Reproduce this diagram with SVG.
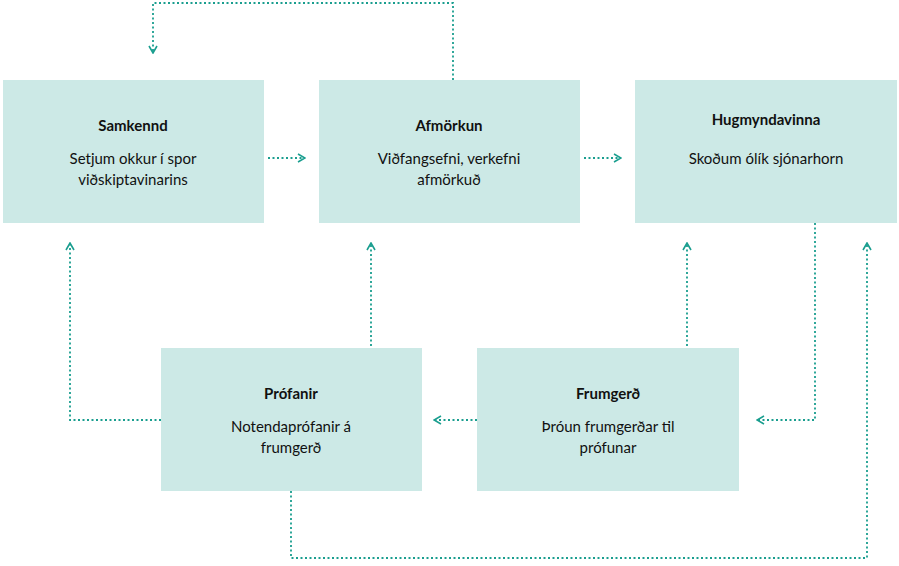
<svg xmlns="http://www.w3.org/2000/svg" width="899" height="566" viewBox="0 0 899 566">
<defs>
<marker id="a" viewBox="0 0 10 10" refX="9" refY="5" markerWidth="10" markerHeight="10" markerUnits="userSpaceOnUse" orient="auto">
<path d="M2,1 L9,5 L2,9" fill="none" stroke="#1a9e8f" stroke-width="1.6"/>
</marker>
<style>
.b{fill:#cce9e6}
.t{font-family:Lato,"Noto Sans",sans-serif;font-size:15px;fill:#111;text-anchor:middle}
.h{font-weight:bold}
.c path{fill:none;stroke:#1a9e8f;stroke-width:1.8;stroke-dasharray:2 2.5;marker-end:url(#a)}
</style>
</defs>
<g id="samkennd"><rect class="b" x="3" y="80" width="261" height="143"/>
<text class="t h" x="133" y="131">Samkennd</text>
<text class="t" x="133" y="164">Setjum okkur í spor</text>
<text class="t" x="133" y="185">viðskiptavinarins</text></g>
<g id="afmorkun"><rect class="b" x="319" y="80" width="261" height="143"/>
<text class="t h" x="449" y="131">Afmörkun</text>
<text class="t" x="449" y="164">Viðfangsefni, verkefni</text>
<text class="t" x="449" y="185">afmörkuð</text></g>
<g id="hugmynd"><rect class="b" x="635" y="80" width="262" height="143"/>
<text class="t h" x="766" y="125">Hugmyndavinna</text>
<text class="t" x="766" y="164">Skoðum ólík sjónarhorn</text></g>
<g id="profanir"><rect class="b" x="161" y="348" width="261" height="143"/>
<text class="t h" x="291" y="399">Prófanir</text>
<text class="t" x="291" y="432">Notendaprófanir á</text>
<text class="t" x="291" y="453">frumgerð</text></g>
<g id="frumgerd"><rect class="b" x="477" y="348" width="262" height="143"/>
<text class="t h" x="608" y="399">Frumgerð</text>
<text class="t" x="608" y="432">Þróun frumgerðar til</text>
<text class="t" x="608" y="453">prófunar</text></g>
<g class="c" id="connectors">
<path d="M453,80 V3 H153 V53"/>
<path d="M268,158 H305"/>
<path d="M584,158 H621"/>
<path d="M161,420 H70 V243"/>
<path d="M371,346 V243"/>
<path d="M687,346 V243"/>
<path d="M815,223 V420 H757"/>
<path d="M477,420 H434"/>
<path d="M291,491 V558 H867 V243"/>
</g>
</svg>
